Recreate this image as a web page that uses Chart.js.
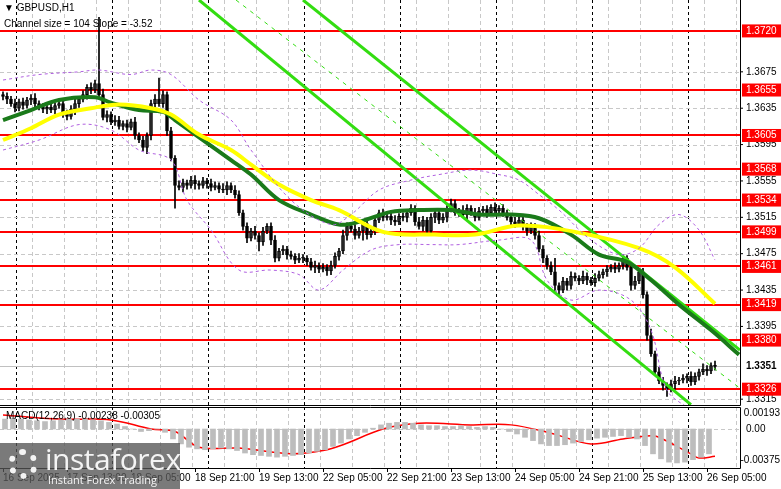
<!DOCTYPE html>
<html><head><meta charset="utf-8">
<script src="https://cdn.jsdelivr.net/npm/chart.js@4"></script>
<style>
body{margin:0;background:#fff;width:781px;height:489px;overflow:hidden;position:relative;font-family:"Liberation Sans",sans-serif}
#c1{position:absolute;left:0;top:0}
#c2{position:absolute;left:0;top:407px}
#logo{position:absolute;left:0;top:443px;width:180px;height:46px;background:rgba(85,85,85,0.78);color:rgba(255,255,255,0.92)}
#logo .a{position:absolute;left:45px;top:-2px;font-size:30px;font-family:"Open Sans",sans-serif;letter-spacing:-0.5px;line-height:36px}
#logo .b{position:absolute;left:48px;top:30px;font-size:11px;font-family:"Open Sans",sans-serif;line-height:14px}
#logo .g{position:absolute;left:8px;top:6px;width:30px;height:30px;border:6px dotted rgba(255,255,255,0.92);border-radius:50%;box-sizing:border-box}
</style></head><body>
<canvas id="c1" width="781" height="407"></canvas>
<canvas id="c2" width="781" height="82"></canvas>
<div id="logo"><div class="g"></div><div class="a">instaforex</div><div class="b">Instant Forex Trading</div></div>
<script>
const closes=[1.3648,1.3645,1.3640,1.3635,1.3642,1.3638,1.3644,
1.3646,1.3640,1.3636,1.3634,1.3636,1.3633,
1.3638,1.3640,1.3630,1.3626,1.3634,1.3640,
1.3645,1.3650,1.3658,1.3655,1.3662,1.3650,
1.3625,1.3628,1.3620,1.3622,1.3615,1.3618,
1.3614,1.3620,1.3605,1.3600,1.3592,1.3605,
1.3640,1.3645,1.3640,1.3650,1.3610,1.3580,
1.3550,1.3548,1.3553,1.3550,1.3556,1.3552,
1.3550,1.3555,1.3552,1.3548,1.3550,1.3546,
1.3545,1.3550,1.3545,1.3540,1.3520,1.3505,
1.3492,1.3500,1.3495,1.3488,1.3500,1.3505,
1.3490,1.3470,1.3478,1.3480,1.3474,1.3472,
1.3468,1.3470,1.3470,1.3466,1.3460,1.3462,
1.3458,1.3460,1.3456,1.3462,1.3472,1.3478,
1.3495,1.3505,1.3502,1.3495,1.3500,1.3508,
1.3496,1.3500,1.3512,1.3520,1.3515,1.3516,
1.3512,1.3510,1.3516,1.3515,1.3520,1.3525,
1.3510,1.3505,1.3512,1.3500,1.3515,1.3520,
1.3512,1.3515,1.3525,1.3530,1.3520,1.3522,
1.3518,1.3525,1.3520,1.3515,1.3522,1.3524,
1.3520,1.3526,1.3522,1.3525,1.3520,1.3515,
1.3510,1.3508,1.3512,1.3505,1.3500,1.3505,
1.3495,1.3480,1.3470,1.3462,1.3455,1.3440,
1.3435,1.3445,1.3440,1.3450,1.3448,1.3445,
1.3450,1.3446,1.3443,1.3448,1.3452,1.3455,
1.3458,1.3460,1.3458,1.3462,1.3470,1.3460,
1.3440,1.3445,1.3455,1.3430,1.3385,1.3365,
1.3345,1.3335,1.3330,1.3326,1.3332,1.3335,
1.3336,1.3338,1.3340,1.3334,1.3340,1.3345,
1.3348,1.3346,1.3352,1.3351];
const firstOpen=1.3650;
const wickPips=[3,4,3,5,3,4,3,4,5,3,4,3,4,3,5,4,3,4,5,3,4,3,5,4,3,6,4,3,5,4];
const highSpikes={24:1.3735,39:1.3668,138:1.3470,162:1.3392};
const lowSpikes={36:1.3585,43:1.3525,64:1.3478,90:1.3490,139:1.3428,166:1.3318};
const maGreenIdx=[0,7,14,23,27,34,40,43,50,57,62,69,77,84,89,97,104,112,119,127,134,142,149,156,162,169,177,184];
const maGreen=[1.3622,1.3633,1.3644,1.3647,1.3641,1.3633,1.3631,1.3622,1.3600,1.3578,1.3562,1.3534,1.3518,1.3507,1.3510,1.3521,1.3523,1.3523,1.3518,1.3518,1.3514,1.3496,1.3474,1.3466,1.3446,1.3419,1.3391,1.3364];
const maYellowIdx=[0,7,14,22,29,37,42,49,57,62,69,77,84,95,108,118,129,143,159,168,178];
const maYellow=[1.3600,1.3613,1.3628,1.3635,1.3639,1.3635,1.3628,1.3606,1.3589,1.3573,1.3551,1.3534,1.3523,1.3499,1.3496,1.3496,1.3506,1.3499,1.3481,1.3460,1.3420];
const envUpIdx=[0,9,19,24,32,37,42,49,57,62,72,82,87,94,102,109,117,124,129,134,139,147,154,159,164,169,174,178];
const envUp=[1.3666,1.3672,1.3675,1.3677,1.3672,1.3677,1.3672,1.3644,1.3622,1.3589,1.3534,1.3507,1.3518,1.3545,1.3556,1.3562,1.3567,1.3562,1.3556,1.3540,1.3523,1.3490,1.3474,1.3481,1.3507,1.3518,1.3501,1.3468];
const envLoIdx=[0,9,19,27,34,42,46,52,59,67,74,79,85,92,99,107,114,124,132,136,142,149,157,162,166,172];
const envLo=[1.3589,1.3600,1.3617,1.3611,1.3589,1.3578,1.3534,1.3501,1.3457,1.3457,1.3452,1.3435,1.3457,1.3479,1.3485,1.3485,1.3485,1.3490,1.3490,1.3446,1.3424,1.3435,1.3424,1.3391,1.3325,1.3303];
const channelLines=[[[49,1.3754],[172,1.3309]],[[75,1.3754],[184.25,1.3369]]];
const channelMid=[[58.25,1.3754],[184.25,1.3327]];
const levels=[1.3720,1.3655,1.3605,1.3568,1.3534,1.3499,1.3461,1.3419,1.3380,1.3326];
const gridTicks=[1.3675,1.3635,1.3595,1.3555,1.3515,1.3475,1.3435,1.3395,1.3315];
const lastPrice=1.3351;
const macdHist=[0.0012,0.0013,0.0012,0.0011,0.0010,0.0009,0.0010,0.0011,0.0012,0.0012,
0.0012,0.0011,0.0010,0.0008,0.0006,0.0003,0.0000,-0.0003,-0.0002,0.0000,
-0.0004,-0.0012,-0.0018,-0.0022,-0.0024,-0.0025,-0.0024,-0.0023,-0.0024,-0.0026,
-0.0029,-0.0031,-0.0032,-0.0033,-0.0034,-0.0033,-0.0032,-0.0031,-0.0029,-0.0027,
-0.0025,-0.0021,-0.0017,-0.0012,-0.0008,-0.0004,0.0001,0.0005,0.0007,0.0008,
0.0008,0.0007,0.0005,0.0004,0.0004,0.0003,0.0003,0.0004,0.0003,0.0002,
0.0003,0.0002,0.0000,-0.0003,-0.0006,-0.0010,-0.0014,-0.0018,-0.0020,-0.0020,
-0.0019,-0.0017,-0.0015,-0.0013,-0.0011,-0.0010,-0.0009,-0.0008,-0.0010,-0.0012,
-0.0020,-0.0030,-0.0036,-0.0040,-0.0041,-0.0040,-0.0037,-0.0034,-0.0030];
const sigIdx=[0,14,27,37,43,49,59,72,80,85,95,104,117,127,137,147,155,162,164,172,174,178];
const signal=[0.0017,0.0012,0.0011,0.0000,-0.0003,-0.0022,-0.0023,-0.0030,-0.0026,-0.0019,0.0000,0.0007,0.0005,0.0005,-0.0005,-0.0018,-0.0012,-0.0008,-0.0010,-0.0030,-0.0035,-0.0033];
const dateLabels=["16 Sep 2025","17 Sep 13:00","18 Sep 05:00","18 Sep 21:00","19 Sep 13:00","22 Sep 05:00","22 Sep 21:00","23 Sep 13:00","24 Sep 05:00","24 Sep 21:00","25 Sep 13:00","26 Sep 05:00"];
const dateIdx=[0,16,32,48,64,80,96,112,128,144,160,176];
const daySepIdx=[3.25,27.25,51.25,75.25,99.25,123.25,147.25,171.25];
const macdTicks=[0.00193,0,-0.00375];

const XMIN=-0.75,XMAX=184.25;
const opens=closes.map((c,i)=>i===0?firstOpen:closes[i-1]);
const highs=closes.map((c,i)=>highSpikes[i]!==undefined?highSpikes[i]:Math.max(c,opens[i])+wickPips[i%wickPips.length]*0.0001);
const lows=closes.map((c,i)=>lowSpikes[i]!==undefined?lowSpikes[i]:Math.min(c,opens[i])-wickPips[(i+7)%wickPips.length]*0.0001);
const pts=(xs,ys)=>xs.map((x,i)=>({x,y:ys[i]}));
const FONT='10px "Liberation Sans"';

function vlines(ctx,ca,sx){
  ctx.save();ctx.strokeStyle='#c8c8c8';ctx.setLineDash([4,3]);ctx.lineWidth=1;
  for(let i=7.25;i<XMAX;i+=8){const x=Math.round(sx.getPixelForValue(i))+0.5;ctx.beginPath();ctx.moveTo(x,ca.top);ctx.lineTo(x,ca.bottom);ctx.stroke();}
  ctx.strokeStyle='#000';ctx.setLineDash([3,3]);
  daySepIdx.forEach(i=>{const x=Math.round(sx.getPixelForValue(i))+0.5;ctx.beginPath();ctx.moveTo(x,ca.top);ctx.lineTo(x,ca.bottom);ctx.stroke();});
  ctx.restore();
}
const mainPlug={id:'mp',
 beforeDatasetsDraw(ch){const {ctx,chartArea:ca,scales:{x,y}}=ch;
  vlines(ctx,ca,x);
  ctx.save();ctx.strokeStyle='#c8c8c8';ctx.setLineDash([4,3]);
  gridTicks.forEach(v=>{const py=Math.round(y.getPixelForValue(v))+0.5;ctx.beginPath();ctx.moveTo(ca.left,py);ctx.lineTo(ca.right,py);ctx.stroke();});
  ctx.setLineDash([]);ctx.strokeStyle='#ff0000';ctx.lineWidth=2;
  levels.forEach(v=>{const py=Math.round(y.getPixelForValue(v));ctx.beginPath();ctx.moveTo(ca.left,py);ctx.lineTo(ca.right,py);ctx.stroke();});
  ctx.strokeStyle='#c0c0c0';ctx.lineWidth=1;const lp=Math.round(y.getPixelForValue(lastPrice))+0.5;
  ctx.beginPath();ctx.moveTo(ca.left,lp);ctx.lineTo(ca.right,lp);ctx.stroke();
  ctx.restore();},
 afterDraw(ch){const {ctx,chartArea:ca,scales:{y}}=ch;
  ctx.save();ctx.strokeStyle='#000';ctx.lineWidth=1;
  ctx.beginPath();ctx.moveTo(ca.right+0.5,0);ctx.lineTo(ca.right+0.5,ca.bottom+0.5);ctx.lineTo(0,ca.bottom+0.5);ctx.stroke();
  ctx.font=FONT;ctx.textBaseline='middle';
  gridTicks.forEach(v=>{const py=y.getPixelForValue(v);ctx.fillStyle='#000';ctx.fillText(v.toFixed(4),746,py);
    ctx.beginPath();ctx.moveTo(ca.right,py);ctx.lineTo(ca.right+3,py);ctx.stroke();});
  levels.forEach(v=>{const py=y.getPixelForValue(v);ctx.fillStyle='#ff0000';ctx.fillRect(742,py-6.5,39,13);ctx.fillStyle='#fff';ctx.fillText(v.toFixed(4),746,py);});
  const lp=y.getPixelForValue(lastPrice);ctx.fillStyle='#fff';ctx.fillRect(742,lp-6.5,39,13);ctx.fillStyle='#000';ctx.font='bold 10px "Liberation Sans"';ctx.fillText(lastPrice.toFixed(4),746,lp);
  ctx.font=FONT;ctx.fillStyle='#000';
  ctx.fillText('\u25BC GBPUSD,H1',4,8);ctx.fillText('Channel size = 104 Slope = -3.52',4,24);
  ctx.restore();}
};
const lineDs=(data,color,w,dash)=>({type:'line',data,borderColor:color,borderWidth:w,borderDash:dash||[],pointRadius:0,tension:0.35,fill:false});
const xScale={type:'linear',min:XMIN,max:XMAX,display:false,offset:false,bounds:'data'};
new Chart(document.getElementById('c1'),{
 data:{datasets:[
  lineDs(pts(envUpIdx,envUp),'#b060e0',1,[3,3]),
  lineDs(pts(envLoIdx,envLo),'#b060e0',1,[3,3]),
  lineDs(pts(maYellowIdx,maYellow),'#ffff00',4),
  lineDs(pts(maGreenIdx,maGreen),'#1a7a1a',4),
  {type:'line',data:channelLines[0].map(p=>({x:p[0],y:p[1]})),borderColor:'#33dd11',borderWidth:3,pointRadius:0},
  {type:'line',data:channelLines[1].map(p=>({x:p[0],y:p[1]})),borderColor:'#33dd11',borderWidth:3,pointRadius:0},
  {type:'line',data:channelMid.map(p=>({x:p[0],y:p[1]})),borderColor:'#33dd11',borderWidth:1,borderDash:[4,5],pointRadius:0},
  {type:'bar',data:closes.map((c,i)=>({x:i,y:[lows[i],highs[i]]})),backgroundColor:'#000',barThickness:1,grouped:false},
  {type:'bar',data:closes.map((c,i)=>({x:i,y:[opens[i],c]})),backgroundColor:closes.map((c,i)=>c>=opens[i]?'#fff':'#000'),borderColor:'#000',borderWidth:1,borderSkipped:false,barThickness:3,grouped:false,minBarLength:1}
 ]},
 options:{responsive:false,animation:false,events:[],layout:{padding:{left:0,right:41,top:0,bottom:2}},
  plugins:{legend:{display:false},tooltip:{enabled:false}},
  scales:{x:xScale,y:{min:1.33086,max:1.3754,display:false}}},
 plugins:[mainPlug]});

const macdPlug={id:'mc',
 beforeDatasetsDraw(ch){const {ctx,chartArea:ca,scales:{x,y}}=ch;vlines(ctx,ca,x);
  ctx.save();ctx.strokeStyle='#c8c8c8';ctx.setLineDash([4,3]);const z=Math.round(y.getPixelForValue(0))+0.5;
  ctx.beginPath();ctx.moveTo(ca.left,z);ctx.lineTo(ca.right,z);ctx.stroke();ctx.restore();},
 afterDraw(ch){const {ctx,chartArea:ca,scales:{x,y}}=ch;
  ctx.save();ctx.strokeStyle='#000';ctx.lineWidth=1;
  ctx.beginPath();ctx.moveTo(0,0.5);ctx.lineTo(ca.right+0.5,0.5);ctx.lineTo(ca.right+0.5,ca.bottom+0.5);ctx.lineTo(0,ca.bottom+0.5);ctx.stroke();
  ctx.font=FONT;ctx.fillStyle='#000';ctx.textBaseline='middle';
  macdTicks.forEach(v=>{ctx.textAlign=v===0?'left':'right';ctx.fillText(v===0?'0.00':v.toFixed(5),v===0?746:780,y.getPixelForValue(v));});
  ctx.textAlign='left';
  ctx.fillText('MACD(12,26,9) -0.00238 -0.00305',6,9);
  dateLabels.forEach((t,i)=>{const px=x.getPixelForValue(dateIdx[i]);ctx.fillText(t,px,71);
    ctx.beginPath();ctx.moveTo(px+0.5,ca.bottom);ctx.lineTo(px+0.5,ca.bottom+4);ctx.stroke();});
  ctx.restore();}
};
new Chart(document.getElementById('c2'),{
 data:{datasets:[
  {type:'bar',data:macdHist.map((v,k)=>({x:2*k+0.5,y:v})),backgroundColor:'#bdbdbd',barThickness:5,grouped:false},
  lineDs(pts(sigIdx,signal),'#ff0000',1.5)
 ]},
 options:{responsive:false,animation:false,events:[],layout:{padding:{left:0,right:41,top:0,bottom:21}},
  plugins:{legend:{display:false},tooltip:{enabled:false}},
  scales:{x:xScale,y:{min:-0.00471,max:0.00266,display:false}}},
 plugins:[macdPlug]});
</script></body></html>
